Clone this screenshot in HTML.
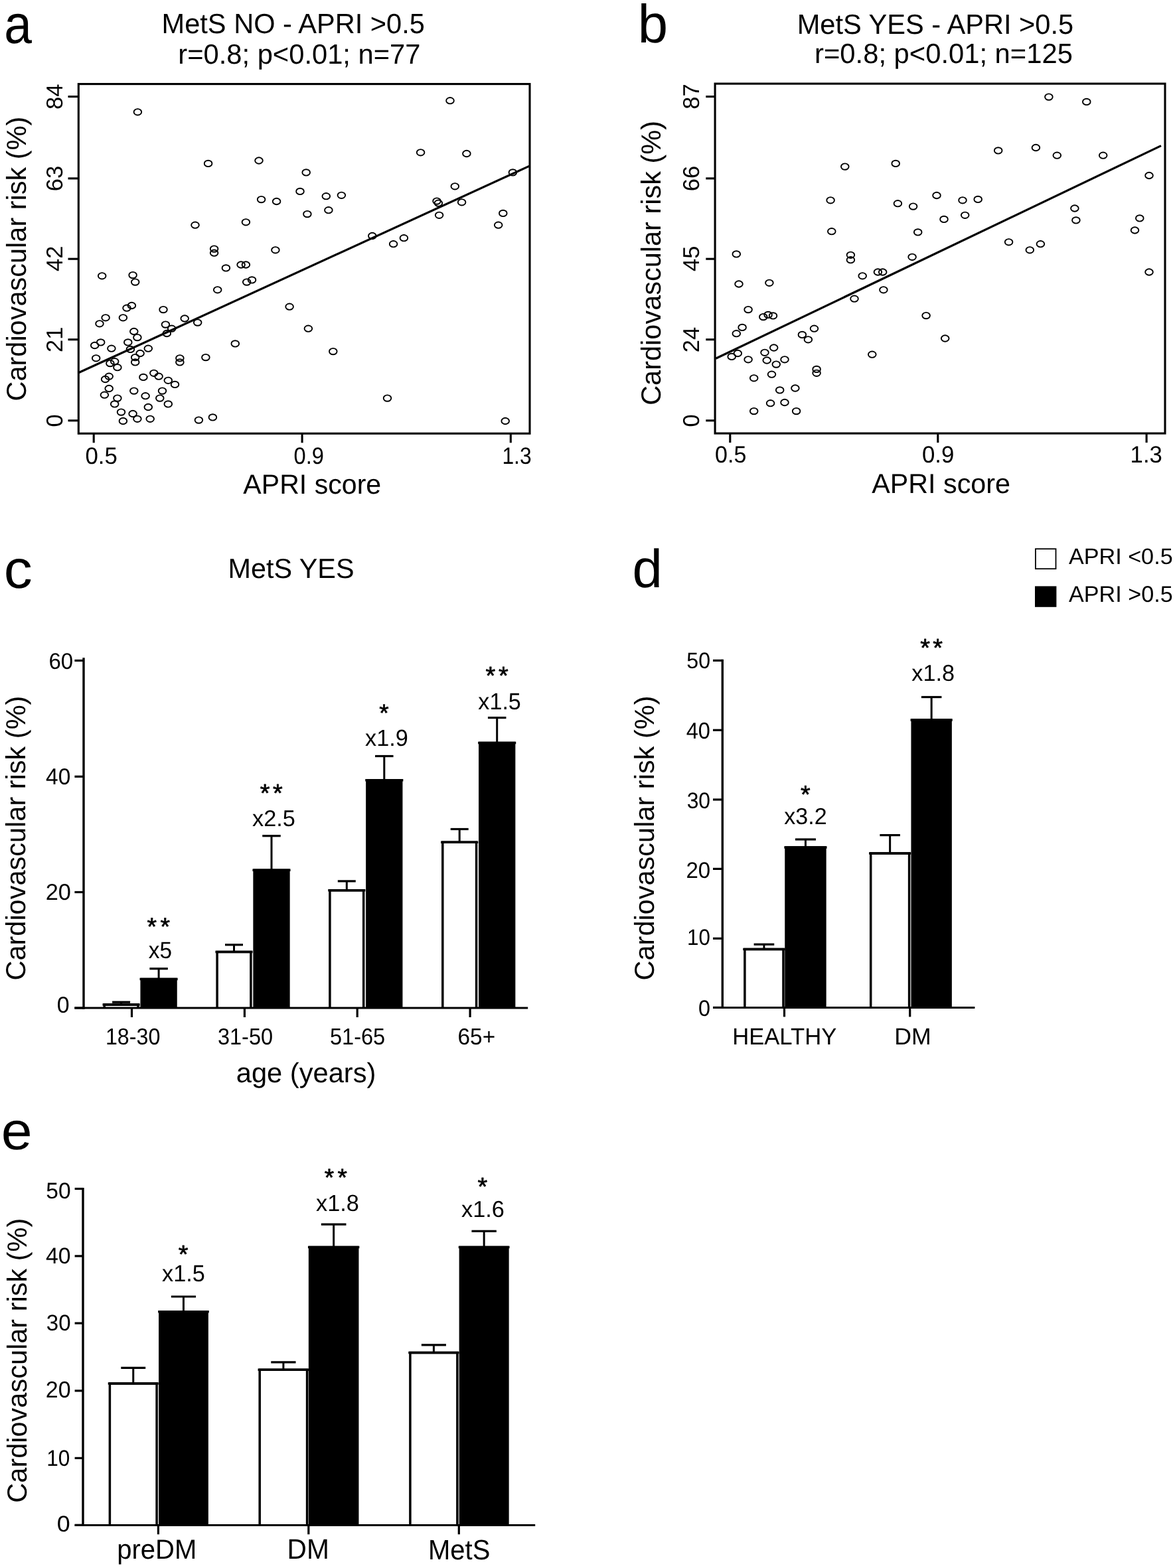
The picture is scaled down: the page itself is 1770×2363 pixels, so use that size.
<!DOCTYPE html>
<html><head><meta charset="utf-8"><title>Figure</title>
<style>
html,body{margin:0;padding:0;background:#fff;}
svg{display:block;}
text{font-family:"Liberation Sans",Arial,Helvetica,sans-serif;fill:#000;stroke:none;text-rendering:geometricPrecision;}
</style></head>
<body>
<svg width="1770" height="2363" viewBox="0 0 1770 2363">
<rect width="1770" height="2363" fill="#fff"/>
<g stroke="#000" fill="none" stroke-linecap="butt">
<g id="pa">
<line x1="118.30" y1="561.80" x2="797.60" y2="250.10" stroke-width="3.2"/>
<ellipse cx="207.4" cy="168.8" rx="5.8" ry="4.7" fill="none" stroke-width="1.9"/>
<ellipse cx="313.6" cy="246.4" rx="5.8" ry="4.7" fill="none" stroke-width="1.9"/>
<ellipse cx="390.0" cy="242.0" rx="5.8" ry="4.7" fill="none" stroke-width="1.9"/>
<ellipse cx="452.0" cy="288.4" rx="5.8" ry="4.7" fill="none" stroke-width="1.9"/>
<ellipse cx="393.6" cy="300.6" rx="5.8" ry="4.7" fill="none" stroke-width="1.9"/>
<ellipse cx="416.6" cy="303.5" rx="5.8" ry="4.7" fill="none" stroke-width="1.9"/>
<ellipse cx="294.0" cy="339.2" rx="5.8" ry="4.7" fill="none" stroke-width="1.9"/>
<ellipse cx="370.4" cy="334.8" rx="5.8" ry="4.7" fill="none" stroke-width="1.9"/>
<ellipse cx="322.6" cy="375.1" rx="5.8" ry="4.7" fill="none" stroke-width="1.9"/>
<ellipse cx="322.6" cy="381.2" rx="5.8" ry="4.7" fill="none" stroke-width="1.9"/>
<ellipse cx="414.9" cy="376.8" rx="5.8" ry="4.7" fill="none" stroke-width="1.9"/>
<ellipse cx="363.1" cy="399.0" rx="5.8" ry="4.7" fill="none" stroke-width="1.9"/>
<ellipse cx="370.4" cy="399.0" rx="5.8" ry="4.7" fill="none" stroke-width="1.9"/>
<ellipse cx="340.4" cy="403.9" rx="5.8" ry="4.7" fill="none" stroke-width="1.9"/>
<ellipse cx="153.7" cy="415.8" rx="5.8" ry="4.7" fill="none" stroke-width="1.9"/>
<ellipse cx="200.1" cy="414.6" rx="5.8" ry="4.7" fill="none" stroke-width="1.9"/>
<ellipse cx="203.7" cy="425.1" rx="5.8" ry="4.7" fill="none" stroke-width="1.9"/>
<ellipse cx="371.7" cy="425.1" rx="5.8" ry="4.7" fill="none" stroke-width="1.9"/>
<ellipse cx="379.5" cy="421.9" rx="5.8" ry="4.7" fill="none" stroke-width="1.9"/>
<ellipse cx="327.7" cy="436.8" rx="5.8" ry="4.7" fill="none" stroke-width="1.9"/>
<ellipse cx="436.1" cy="462.2" rx="5.8" ry="4.7" fill="none" stroke-width="1.9"/>
<ellipse cx="191.0" cy="464.2" rx="5.8" ry="4.7" fill="none" stroke-width="1.9"/>
<ellipse cx="198.4" cy="460.5" rx="5.8" ry="4.7" fill="none" stroke-width="1.9"/>
<ellipse cx="246.0" cy="466.6" rx="5.8" ry="4.7" fill="none" stroke-width="1.9"/>
<ellipse cx="159.1" cy="478.8" rx="5.8" ry="4.7" fill="none" stroke-width="1.9"/>
<ellipse cx="185.4" cy="478.8" rx="5.8" ry="4.7" fill="none" stroke-width="1.9"/>
<ellipse cx="278.2" cy="480.0" rx="5.8" ry="4.7" fill="none" stroke-width="1.9"/>
<ellipse cx="150.0" cy="487.8" rx="5.8" ry="4.7" fill="none" stroke-width="1.9"/>
<ellipse cx="297.7" cy="486.1" rx="5.8" ry="4.7" fill="none" stroke-width="1.9"/>
<ellipse cx="249.4" cy="489.1" rx="5.8" ry="4.7" fill="none" stroke-width="1.9"/>
<ellipse cx="258.7" cy="495.2" rx="5.8" ry="4.7" fill="none" stroke-width="1.9"/>
<ellipse cx="251.3" cy="502.5" rx="5.8" ry="4.7" fill="none" stroke-width="1.9"/>
<ellipse cx="201.8" cy="499.5" rx="5.8" ry="4.7" fill="none" stroke-width="1.9"/>
<ellipse cx="206.9" cy="508.6" rx="5.8" ry="4.7" fill="none" stroke-width="1.9"/>
<ellipse cx="151.7" cy="515.9" rx="5.8" ry="4.7" fill="none" stroke-width="1.9"/>
<ellipse cx="142.7" cy="520.5" rx="5.8" ry="4.7" fill="none" stroke-width="1.9"/>
<ellipse cx="192.8" cy="515.9" rx="5.8" ry="4.7" fill="none" stroke-width="1.9"/>
<ellipse cx="167.9" cy="525.2" rx="5.8" ry="4.7" fill="none" stroke-width="1.9"/>
<ellipse cx="196.4" cy="526.4" rx="5.8" ry="4.7" fill="none" stroke-width="1.9"/>
<ellipse cx="223.3" cy="525.2" rx="5.8" ry="4.7" fill="none" stroke-width="1.9"/>
<ellipse cx="354.3" cy="517.9" rx="5.8" ry="4.7" fill="none" stroke-width="1.9"/>
<ellipse cx="211.1" cy="532.5" rx="5.8" ry="4.7" fill="none" stroke-width="1.9"/>
<ellipse cx="144.7" cy="539.8" rx="5.8" ry="4.7" fill="none" stroke-width="1.9"/>
<ellipse cx="203.7" cy="538.6" rx="5.8" ry="4.7" fill="none" stroke-width="1.9"/>
<ellipse cx="203.7" cy="545.9" rx="5.8" ry="4.7" fill="none" stroke-width="1.9"/>
<ellipse cx="270.9" cy="539.8" rx="5.8" ry="4.7" fill="none" stroke-width="1.9"/>
<ellipse cx="270.9" cy="545.9" rx="5.8" ry="4.7" fill="none" stroke-width="1.9"/>
<ellipse cx="309.9" cy="538.6" rx="5.8" ry="4.7" fill="none" stroke-width="1.9"/>
<ellipse cx="172.7" cy="544.7" rx="5.8" ry="4.7" fill="none" stroke-width="1.9"/>
<ellipse cx="165.9" cy="547.6" rx="5.8" ry="4.7" fill="none" stroke-width="1.9"/>
<ellipse cx="176.9" cy="553.7" rx="5.8" ry="4.7" fill="none" stroke-width="1.9"/>
<ellipse cx="231.8" cy="562.3" rx="5.8" ry="4.7" fill="none" stroke-width="1.9"/>
<ellipse cx="239.1" cy="567.2" rx="5.8" ry="4.7" fill="none" stroke-width="1.9"/>
<ellipse cx="215.9" cy="568.4" rx="5.8" ry="4.7" fill="none" stroke-width="1.9"/>
<ellipse cx="164.2" cy="567.2" rx="5.8" ry="4.7" fill="none" stroke-width="1.9"/>
<ellipse cx="158.6" cy="571.5" rx="5.8" ry="4.7" fill="none" stroke-width="1.9"/>
<ellipse cx="253.3" cy="573.3" rx="5.8" ry="4.7" fill="none" stroke-width="1.9"/>
<ellipse cx="263.5" cy="579.4" rx="5.8" ry="4.7" fill="none" stroke-width="1.9"/>
<ellipse cx="164.2" cy="585.5" rx="5.8" ry="4.7" fill="none" stroke-width="1.9"/>
<ellipse cx="201.8" cy="589.1" rx="5.8" ry="4.7" fill="none" stroke-width="1.9"/>
<ellipse cx="244.5" cy="589.1" rx="5.8" ry="4.7" fill="none" stroke-width="1.9"/>
<ellipse cx="157.4" cy="595.2" rx="5.8" ry="4.7" fill="none" stroke-width="1.9"/>
<ellipse cx="219.1" cy="596.7" rx="5.8" ry="4.7" fill="none" stroke-width="1.9"/>
<ellipse cx="240.8" cy="600.1" rx="5.8" ry="4.7" fill="none" stroke-width="1.9"/>
<ellipse cx="176.9" cy="600.1" rx="5.8" ry="4.7" fill="none" stroke-width="1.9"/>
<ellipse cx="172.7" cy="608.9" rx="5.8" ry="4.7" fill="none" stroke-width="1.9"/>
<ellipse cx="253.3" cy="608.9" rx="5.8" ry="4.7" fill="none" stroke-width="1.9"/>
<ellipse cx="223.3" cy="613.5" rx="5.8" ry="4.7" fill="none" stroke-width="1.9"/>
<ellipse cx="182.5" cy="621.1" rx="5.8" ry="4.7" fill="none" stroke-width="1.9"/>
<ellipse cx="200.1" cy="623.5" rx="5.8" ry="4.7" fill="none" stroke-width="1.9"/>
<ellipse cx="206.9" cy="631.3" rx="5.8" ry="4.7" fill="none" stroke-width="1.9"/>
<ellipse cx="226.2" cy="631.3" rx="5.8" ry="4.7" fill="none" stroke-width="1.9"/>
<ellipse cx="185.4" cy="634.5" rx="5.8" ry="4.7" fill="none" stroke-width="1.9"/>
<ellipse cx="299.4" cy="633.1" rx="5.8" ry="4.7" fill="none" stroke-width="1.9"/>
<ellipse cx="320.4" cy="628.9" rx="5.8" ry="4.7" fill="none" stroke-width="1.9"/>
<ellipse cx="678.0" cy="151.7" rx="5.8" ry="4.7" fill="none" stroke-width="1.9"/>
<ellipse cx="633.6" cy="229.8" rx="5.8" ry="4.7" fill="none" stroke-width="1.9"/>
<ellipse cx="702.9" cy="231.5" rx="5.8" ry="4.7" fill="none" stroke-width="1.9"/>
<ellipse cx="461.2" cy="259.9" rx="5.8" ry="4.7" fill="none" stroke-width="1.9"/>
<ellipse cx="491.3" cy="295.7" rx="5.8" ry="4.7" fill="none" stroke-width="1.9"/>
<ellipse cx="514.4" cy="294.3" rx="5.8" ry="4.7" fill="none" stroke-width="1.9"/>
<ellipse cx="462.9" cy="322.6" rx="5.8" ry="4.7" fill="none" stroke-width="1.9"/>
<ellipse cx="494.9" cy="316.7" rx="5.8" ry="4.7" fill="none" stroke-width="1.9"/>
<ellipse cx="772.4" cy="259.9" rx="5.8" ry="4.7" fill="none" stroke-width="1.9"/>
<ellipse cx="685.3" cy="280.8" rx="5.8" ry="4.7" fill="none" stroke-width="1.9"/>
<ellipse cx="658.0" cy="303.1" rx="5.8" ry="4.7" fill="none" stroke-width="1.9"/>
<ellipse cx="660.4" cy="306.2" rx="5.8" ry="4.7" fill="none" stroke-width="1.9"/>
<ellipse cx="695.6" cy="304.8" rx="5.8" ry="4.7" fill="none" stroke-width="1.9"/>
<ellipse cx="757.8" cy="321.4" rx="5.8" ry="4.7" fill="none" stroke-width="1.9"/>
<ellipse cx="661.6" cy="324.3" rx="5.8" ry="4.7" fill="none" stroke-width="1.9"/>
<ellipse cx="750.7" cy="339.2" rx="5.8" ry="4.7" fill="none" stroke-width="1.9"/>
<ellipse cx="560.8" cy="355.5" rx="5.8" ry="4.7" fill="none" stroke-width="1.9"/>
<ellipse cx="608.4" cy="358.7" rx="5.8" ry="4.7" fill="none" stroke-width="1.9"/>
<ellipse cx="592.6" cy="367.7" rx="5.8" ry="4.7" fill="none" stroke-width="1.9"/>
<ellipse cx="464.4" cy="495.2" rx="5.8" ry="4.7" fill="none" stroke-width="1.9"/>
<ellipse cx="501.8" cy="529.6" rx="5.8" ry="4.7" fill="none" stroke-width="1.9"/>
<ellipse cx="583.5" cy="600.1" rx="5.8" ry="4.7" fill="none" stroke-width="1.9"/>
<ellipse cx="761.2" cy="634.5" rx="5.8" ry="4.7" fill="none" stroke-width="1.9"/>
<rect x="118.30" y="126.60" width="679.70" height="526.70" fill="none" stroke-width="3.1"/>
<line x1="102.50" y1="145.60" x2="118.30" y2="145.60" stroke-width="3.1"/>
<text transform="translate(93.60,165.02) rotate(-90)" font-size="34.5">84</text>
<line x1="102.50" y1="268.90" x2="118.30" y2="268.90" stroke-width="3.1"/>
<text transform="translate(93.60,288.20) rotate(-90)" font-size="34.5">63</text>
<line x1="102.50" y1="390.20" x2="118.30" y2="390.20" stroke-width="3.1"/>
<text transform="translate(93.60,408.92) rotate(-90)" font-size="34.5">42</text>
<line x1="102.50" y1="511.70" x2="118.30" y2="511.70" stroke-width="3.1"/>
<text transform="translate(93.60,530.90) rotate(-90)" font-size="34.5">21</text>
<line x1="102.50" y1="633.80" x2="118.30" y2="633.80" stroke-width="3.1"/>
<text transform="translate(93.60,643.39) rotate(-90)" font-size="34.5">0</text>
<line x1="141.20" y1="653.30" x2="141.20" y2="667.30" stroke-width="3.1"/>
<line x1="455.10" y1="653.30" x2="455.10" y2="667.30" stroke-width="3.1"/>
<line x1="769.30" y1="653.30" x2="769.30" y2="667.30" stroke-width="3.1"/>
<text transform="translate(128.39,699.14) scale(0.9813,1)" font-size="35.5">0.5</text>
<text transform="translate(442.48,699.14) scale(0.9202,1)" font-size="35.5">0.9</text>
<text transform="translate(756.43,699.14) scale(0.8961,1)" font-size="35.5">1.3</text>
<text transform="translate(366.37,743.50) scale(0.9901,1)" font-size="41.5">APRI score</text>
<text transform="translate(39.30,604.56) rotate(-90)" font-size="41.5">Cardiovascular risk (%)</text>
<text transform="translate(243.54,50.00) scale(0.9901,1)" font-size="42">MetS NO - APRI &gt;0.5</text>
<text transform="translate(268.30,96.00) scale(0.9928,1)" font-size="42">r=0.8; p&lt;0.01; n=77</text>
<text transform="translate(6.35,64.73) scale(0.9113,1)" font-size="82.3">a</text>
</g>
<g id="pb">
<line x1="1078.30" y1="540.30" x2="1749.00" y2="219.60" stroke-width="3.2"/>
<ellipse cx="1272.8" cy="251.1" rx="5.8" ry="4.7" fill="none" stroke-width="1.9"/>
<ellipse cx="1349.2" cy="246.4" rx="5.8" ry="4.7" fill="none" stroke-width="1.9"/>
<ellipse cx="1411.0" cy="294.5" rx="5.8" ry="4.7" fill="none" stroke-width="1.9"/>
<ellipse cx="1251.1" cy="301.8" rx="5.8" ry="4.7" fill="none" stroke-width="1.9"/>
<ellipse cx="1352.4" cy="306.7" rx="5.8" ry="4.7" fill="none" stroke-width="1.9"/>
<ellipse cx="1375.6" cy="311.1" rx="5.8" ry="4.7" fill="none" stroke-width="1.9"/>
<ellipse cx="1252.8" cy="348.7" rx="5.8" ry="4.7" fill="none" stroke-width="1.9"/>
<ellipse cx="1382.7" cy="349.9" rx="5.8" ry="4.7" fill="none" stroke-width="1.9"/>
<ellipse cx="1109.3" cy="382.9" rx="5.8" ry="4.7" fill="none" stroke-width="1.9"/>
<ellipse cx="1281.4" cy="384.3" rx="5.8" ry="4.7" fill="none" stroke-width="1.9"/>
<ellipse cx="1281.4" cy="391.7" rx="5.8" ry="4.7" fill="none" stroke-width="1.9"/>
<ellipse cx="1374.1" cy="387.3" rx="5.8" ry="4.7" fill="none" stroke-width="1.9"/>
<ellipse cx="1322.4" cy="410.0" rx="5.8" ry="4.7" fill="none" stroke-width="1.9"/>
<ellipse cx="1329.7" cy="410.0" rx="5.8" ry="4.7" fill="none" stroke-width="1.9"/>
<ellipse cx="1299.2" cy="415.8" rx="5.8" ry="4.7" fill="none" stroke-width="1.9"/>
<ellipse cx="1113.0" cy="428.0" rx="5.8" ry="4.7" fill="none" stroke-width="1.9"/>
<ellipse cx="1158.9" cy="426.3" rx="5.8" ry="4.7" fill="none" stroke-width="1.9"/>
<ellipse cx="1330.9" cy="436.8" rx="5.8" ry="4.7" fill="none" stroke-width="1.9"/>
<ellipse cx="1287.0" cy="450.2" rx="5.8" ry="4.7" fill="none" stroke-width="1.9"/>
<ellipse cx="1127.1" cy="466.6" rx="5.8" ry="4.7" fill="none" stroke-width="1.9"/>
<ellipse cx="1149.8" cy="477.6" rx="5.8" ry="4.7" fill="none" stroke-width="1.9"/>
<ellipse cx="1157.1" cy="474.4" rx="5.8" ry="4.7" fill="none" stroke-width="1.9"/>
<ellipse cx="1164.5" cy="475.9" rx="5.8" ry="4.7" fill="none" stroke-width="1.9"/>
<ellipse cx="1395.1" cy="475.6" rx="5.8" ry="4.7" fill="none" stroke-width="1.9"/>
<ellipse cx="1118.1" cy="493.4" rx="5.8" ry="4.7" fill="none" stroke-width="1.9"/>
<ellipse cx="1109.3" cy="502.7" rx="5.8" ry="4.7" fill="none" stroke-width="1.9"/>
<ellipse cx="1226.5" cy="495.2" rx="5.8" ry="4.7" fill="none" stroke-width="1.9"/>
<ellipse cx="1208.4" cy="504.4" rx="5.8" ry="4.7" fill="none" stroke-width="1.9"/>
<ellipse cx="1217.4" cy="511.8" rx="5.8" ry="4.7" fill="none" stroke-width="1.9"/>
<ellipse cx="1165.7" cy="524.0" rx="5.8" ry="4.7" fill="none" stroke-width="1.9"/>
<ellipse cx="1111.3" cy="532.5" rx="5.8" ry="4.7" fill="none" stroke-width="1.9"/>
<ellipse cx="1102.2" cy="537.4" rx="5.8" ry="4.7" fill="none" stroke-width="1.9"/>
<ellipse cx="1152.0" cy="531.3" rx="5.8" ry="4.7" fill="none" stroke-width="1.9"/>
<ellipse cx="1127.1" cy="541.8" rx="5.8" ry="4.7" fill="none" stroke-width="1.9"/>
<ellipse cx="1155.2" cy="543.0" rx="5.8" ry="4.7" fill="none" stroke-width="1.9"/>
<ellipse cx="1182.0" cy="541.8" rx="5.8" ry="4.7" fill="none" stroke-width="1.9"/>
<ellipse cx="1169.3" cy="549.1" rx="5.8" ry="4.7" fill="none" stroke-width="1.9"/>
<ellipse cx="1313.8" cy="534.2" rx="5.8" ry="4.7" fill="none" stroke-width="1.9"/>
<ellipse cx="1230.1" cy="556.4" rx="5.8" ry="4.7" fill="none" stroke-width="1.9"/>
<ellipse cx="1230.1" cy="562.3" rx="5.8" ry="4.7" fill="none" stroke-width="1.9"/>
<ellipse cx="1162.5" cy="564.2" rx="5.8" ry="4.7" fill="none" stroke-width="1.9"/>
<ellipse cx="1135.7" cy="569.8" rx="5.8" ry="4.7" fill="none" stroke-width="1.9"/>
<ellipse cx="1174.7" cy="587.9" rx="5.8" ry="4.7" fill="none" stroke-width="1.9"/>
<ellipse cx="1197.9" cy="585.0" rx="5.8" ry="4.7" fill="none" stroke-width="1.9"/>
<ellipse cx="1160.6" cy="607.7" rx="5.8" ry="4.7" fill="none" stroke-width="1.9"/>
<ellipse cx="1182.0" cy="606.5" rx="5.8" ry="4.7" fill="none" stroke-width="1.9"/>
<ellipse cx="1135.7" cy="619.6" rx="5.8" ry="4.7" fill="none" stroke-width="1.9"/>
<ellipse cx="1199.6" cy="619.6" rx="5.8" ry="4.7" fill="none" stroke-width="1.9"/>
<ellipse cx="1579.9" cy="146.1" rx="5.8" ry="4.7" fill="none" stroke-width="1.9"/>
<ellipse cx="1636.8" cy="153.4" rx="5.8" ry="4.7" fill="none" stroke-width="1.9"/>
<ellipse cx="1503.7" cy="226.9" rx="5.8" ry="4.7" fill="none" stroke-width="1.9"/>
<ellipse cx="1560.4" cy="222.5" rx="5.8" ry="4.7" fill="none" stroke-width="1.9"/>
<ellipse cx="1592.3" cy="234.2" rx="5.8" ry="4.7" fill="none" stroke-width="1.9"/>
<ellipse cx="1661.7" cy="234.2" rx="5.8" ry="4.7" fill="none" stroke-width="1.9"/>
<ellipse cx="1731.0" cy="264.5" rx="5.8" ry="4.7" fill="none" stroke-width="1.9"/>
<ellipse cx="1450.0" cy="301.8" rx="5.8" ry="4.7" fill="none" stroke-width="1.9"/>
<ellipse cx="1473.2" cy="300.4" rx="5.8" ry="4.7" fill="none" stroke-width="1.9"/>
<ellipse cx="1422.0" cy="330.4" rx="5.8" ry="4.7" fill="none" stroke-width="1.9"/>
<ellipse cx="1453.7" cy="324.3" rx="5.8" ry="4.7" fill="none" stroke-width="1.9"/>
<ellipse cx="1618.9" cy="314.0" rx="5.8" ry="4.7" fill="none" stroke-width="1.9"/>
<ellipse cx="1620.9" cy="331.9" rx="5.8" ry="4.7" fill="none" stroke-width="1.9"/>
<ellipse cx="1716.8" cy="328.9" rx="5.8" ry="4.7" fill="none" stroke-width="1.9"/>
<ellipse cx="1709.5" cy="347.0" rx="5.8" ry="4.7" fill="none" stroke-width="1.9"/>
<ellipse cx="1519.6" cy="364.8" rx="5.8" ry="4.7" fill="none" stroke-width="1.9"/>
<ellipse cx="1567.4" cy="367.7" rx="5.8" ry="4.7" fill="none" stroke-width="1.9"/>
<ellipse cx="1551.3" cy="376.8" rx="5.8" ry="4.7" fill="none" stroke-width="1.9"/>
<ellipse cx="1731.0" cy="410.0" rx="5.8" ry="4.7" fill="none" stroke-width="1.9"/>
<ellipse cx="1423.7" cy="510.0" rx="5.8" ry="4.7" fill="none" stroke-width="1.9"/>
<rect x="1077.10" y="126.10" width="677.90" height="527.00" fill="none" stroke-width="3.1"/>
<line x1="1063.30" y1="145.60" x2="1077.10" y2="145.60" stroke-width="3.1"/>
<text transform="translate(1053.10,164.66) rotate(-90)" font-size="34.5">87</text>
<line x1="1063.30" y1="268.90" x2="1077.10" y2="268.90" stroke-width="3.1"/>
<text transform="translate(1053.10,288.20) rotate(-90)" font-size="34.5">66</text>
<line x1="1063.30" y1="390.20" x2="1077.10" y2="390.20" stroke-width="3.1"/>
<text transform="translate(1053.10,409.05) rotate(-90)" font-size="34.5">45</text>
<line x1="1063.30" y1="511.70" x2="1077.10" y2="511.70" stroke-width="3.1"/>
<text transform="translate(1053.10,531.24) rotate(-90)" font-size="34.5">24</text>
<line x1="1063.30" y1="633.80" x2="1077.10" y2="633.80" stroke-width="3.1"/>
<text transform="translate(1053.10,643.39) rotate(-90)" font-size="34.5">0</text>
<line x1="1099.80" y1="653.10" x2="1099.80" y2="667.10" stroke-width="3.1"/>
<line x1="1412.80" y1="653.10" x2="1412.80" y2="667.10" stroke-width="3.1"/>
<line x1="1727.10" y1="653.10" x2="1727.10" y2="667.10" stroke-width="3.1"/>
<text transform="translate(1077.12,697.44) scale(0.9576,1)" font-size="35.5">0.5</text>
<text transform="translate(1388.99,697.44) scale(0.9807,1)" font-size="35.5">0.9</text>
<text transform="translate(1702.61,697.44) scale(0.9782,1)" font-size="35.5">1.3</text>
<text transform="translate(1313.17,743.30) scale(0.9949,1)" font-size="41.5">APRI score</text>
<text transform="translate(994.70,610.86) rotate(-90)" font-size="41.5">Cardiovascular risk (%)</text>
<text transform="translate(1200.64,50.70) scale(0.9904,1)" font-size="42">MetS YES - APRI &gt;0.5</text>
<text transform="translate(1227.10,95.20) scale(0.9938,1)" font-size="42">r=0.8; p&lt;0.01; n=125</text>
<text x="960.64" y="63.93" font-size="81.56">b</text>
</g>
<g id="pc">
<line x1="182.60" y1="1510.20" x2="182.60" y2="1513.40" stroke-width="3"/>
<line x1="169.10" y1="1510.20" x2="196.10" y2="1510.20" stroke-width="3.2"/>
<path d="M157.20,1519.00V1514.00H208.00V1519.00" fill="#fff" stroke-width="3.5" stroke-linejoin="miter"/>
<line x1="154.55" y1="1514.00" x2="210.65" y2="1514.00" stroke-width="3.5"/>
<line x1="239.10" y1="1459.80" x2="239.10" y2="1474.80" stroke-width="3"/>
<line x1="225.35" y1="1459.80" x2="252.85" y2="1459.80" stroke-width="3.2"/>
<path d="M213.20,1519.00V1475.40H265.00V1519.00" fill="#000" stroke-width="3.5" stroke-linejoin="miter"/>
<line x1="210.55" y1="1475.40" x2="267.65" y2="1475.40" stroke-width="3.5"/>
<line x1="352.50" y1="1423.80" x2="352.50" y2="1433.80" stroke-width="3"/>
<line x1="339.00" y1="1423.80" x2="366.00" y2="1423.80" stroke-width="3.2"/>
<path d="M327.10,1519.00V1434.40H377.90V1519.00" fill="#fff" stroke-width="3.5" stroke-linejoin="miter"/>
<line x1="324.45" y1="1434.40" x2="380.55" y2="1434.40" stroke-width="3.5"/>
<line x1="409.00" y1="1259.70" x2="409.00" y2="1310.70" stroke-width="3"/>
<line x1="395.25" y1="1259.70" x2="422.75" y2="1259.70" stroke-width="3.2"/>
<path d="M383.10,1519.00V1311.30H434.90V1519.00" fill="#000" stroke-width="3.5" stroke-linejoin="miter"/>
<line x1="380.45" y1="1311.30" x2="437.55" y2="1311.30" stroke-width="3.5"/>
<line x1="522.30" y1="1327.90" x2="522.30" y2="1341.10" stroke-width="3"/>
<line x1="508.80" y1="1327.90" x2="535.80" y2="1327.90" stroke-width="3.2"/>
<path d="M496.90,1519.00V1341.70H547.70V1519.00" fill="#fff" stroke-width="3.5" stroke-linejoin="miter"/>
<line x1="494.25" y1="1341.70" x2="550.35" y2="1341.70" stroke-width="3.5"/>
<line x1="578.80" y1="1139.50" x2="578.80" y2="1175.20" stroke-width="3"/>
<line x1="565.05" y1="1139.50" x2="592.55" y2="1139.50" stroke-width="3.2"/>
<path d="M552.90,1519.00V1175.80H604.70V1519.00" fill="#000" stroke-width="3.5" stroke-linejoin="miter"/>
<line x1="550.25" y1="1175.80" x2="607.35" y2="1175.80" stroke-width="3.5"/>
<line x1="692.20" y1="1249.50" x2="692.20" y2="1268.70" stroke-width="3"/>
<line x1="678.70" y1="1249.50" x2="705.70" y2="1249.50" stroke-width="3.2"/>
<path d="M666.80,1519.00V1269.30H717.60V1519.00" fill="#fff" stroke-width="3.5" stroke-linejoin="miter"/>
<line x1="664.15" y1="1269.30" x2="720.25" y2="1269.30" stroke-width="3.5"/>
<line x1="748.70" y1="1081.60" x2="748.70" y2="1118.80" stroke-width="3"/>
<line x1="734.95" y1="1081.60" x2="762.45" y2="1081.60" stroke-width="3.2"/>
<path d="M722.80,1519.00V1119.40H774.60V1519.00" fill="#000" stroke-width="3.5" stroke-linejoin="miter"/>
<line x1="720.15" y1="1119.40" x2="777.25" y2="1119.40" stroke-width="3.5"/>
<line x1="112.30" y1="1519.00" x2="795.20" y2="1519.00" stroke-width="3.0"/>
<line x1="126.00" y1="991.20" x2="126.00" y2="1520.70" stroke-width="3.4"/>
<line x1="112.40" y1="995.50" x2="126.00" y2="995.50" stroke-width="3.2"/>
<line x1="112.40" y1="1170.30" x2="126.00" y2="1170.30" stroke-width="3.2"/>
<line x1="112.40" y1="1344.50" x2="126.00" y2="1344.50" stroke-width="3.2"/>
<line x1="112.40" y1="1519.00" x2="126.00" y2="1519.00" stroke-width="3.2"/>
<line x1="198.50" y1="1519.00" x2="198.50" y2="1533.00" stroke-width="3.2"/>
<line x1="368.40" y1="1519.00" x2="368.40" y2="1533.00" stroke-width="3.2"/>
<line x1="538.20" y1="1519.00" x2="538.20" y2="1533.00" stroke-width="3.2"/>
<line x1="708.10" y1="1519.00" x2="708.10" y2="1533.00" stroke-width="3.2"/>
<text transform="translate(73.47,1007.91) scale(0.9647,1)" font-size="34.18">60</text>
<text transform="translate(69.08,1182.00) scale(0.9701,1)" font-size="34.46">40</text>
<text x="68.63" y="1355.81" font-size="34.32">20</text>
<text transform="translate(85.83,1525.91) scale(0.9875,1)" font-size="34.32">0</text>
<text transform="translate(158.90,1574.00) scale(0.9237,1)" font-size="34.89">18-30</text>
<text transform="translate(328.02,1574.00) scale(0.9303,1)" font-size="34.89">31-50</text>
<text transform="translate(496.95,1574.00) scale(0.9334,1)" font-size="34.89">51-65</text>
<text transform="translate(689.55,1574.00) scale(0.9572,1)" font-size="34.89">65+</text>
<text transform="translate(355.80,1630.86) scale(0.9958,1)" font-size="41.8">age (years)</text>
<text transform="translate(343.46,870.93) scale(0.9928,1)" font-size="41.67">MetS YES</text>
<text transform="translate(5.71,885.73) scale(1.0491,1)" font-size="81.93">c</text>
<text transform="translate(38.40,1477.56) rotate(-90)" font-size="41.5">Cardiovascular risk (%)</text>
<text x="221.40" y="1408.88" font-size="37.32" letter-spacing="5.56" style="stroke:#000;stroke-width:0.7px;stroke-linejoin:round">**</text>
<text transform="translate(223.85,1444.30) scale(0.9447,1)" font-size="35.39">x5</text>
<text x="391.69" y="1207.77" font-size="37.89" letter-spacing="4.53" style="stroke:#000;stroke-width:0.7px;stroke-linejoin:round">**</text>
<text transform="translate(380.04,1244.70) scale(0.9958,1)" font-size="34.46">x2.5</text>
<text x="571.21" y="1087.48" font-size="37.04" style="stroke:#000;stroke-width:0.7px;stroke-linejoin:round">*</text>
<text transform="translate(550.04,1124.00) scale(0.9776,1)" font-size="35.03">x1.9</text>
<text x="731.49" y="1030.87" font-size="37.89" letter-spacing="4.73" style="stroke:#000;stroke-width:0.7px;stroke-linejoin:round">**</text>
<text transform="translate(720.34,1068.60) scale(0.9729,1)" font-size="35.1">x1.5</text>
</g>
<g id="pd">
<line x1="1150.95" y1="1423.20" x2="1150.95" y2="1429.80" stroke-width="3"/>
<line x1="1135.62" y1="1423.20" x2="1166.27" y2="1423.20" stroke-width="3.2"/>
<path d="M1121.90,1518.40V1430.40H1180.00V1518.40" fill="#fff" stroke-width="3.5" stroke-linejoin="miter"/>
<line x1="1119.25" y1="1430.40" x2="1182.65" y2="1430.40" stroke-width="3.5"/>
<line x1="1213.45" y1="1265.00" x2="1213.45" y2="1276.50" stroke-width="3"/>
<line x1="1197.93" y1="1265.00" x2="1228.97" y2="1265.00" stroke-width="3.2"/>
<path d="M1184.00,1518.40V1277.10H1242.90V1518.40" fill="#000" stroke-width="3.5" stroke-linejoin="miter"/>
<line x1="1181.35" y1="1277.10" x2="1245.55" y2="1277.10" stroke-width="3.5"/>
<line x1="1340.65" y1="1258.60" x2="1340.65" y2="1285.40" stroke-width="3"/>
<line x1="1325.38" y1="1258.60" x2="1355.93" y2="1258.60" stroke-width="3.2"/>
<path d="M1311.70,1518.40V1286.00H1369.60V1518.40" fill="#fff" stroke-width="3.5" stroke-linejoin="miter"/>
<line x1="1309.05" y1="1286.00" x2="1372.25" y2="1286.00" stroke-width="3.5"/>
<line x1="1403.15" y1="1050.50" x2="1403.15" y2="1084.50" stroke-width="3"/>
<line x1="1387.88" y1="1050.50" x2="1418.43" y2="1050.50" stroke-width="3.2"/>
<path d="M1374.20,1518.40V1085.10H1432.10V1518.40" fill="#000" stroke-width="3.5" stroke-linejoin="miter"/>
<line x1="1371.55" y1="1085.10" x2="1434.75" y2="1085.10" stroke-width="3.5"/>
<line x1="1074.10" y1="1518.40" x2="1468.40" y2="1518.40" stroke-width="3.0"/>
<line x1="1088.30" y1="993.80" x2="1088.30" y2="1520.10" stroke-width="3.4"/>
<line x1="1074.00" y1="995.40" x2="1088.30" y2="995.40" stroke-width="3.2"/>
<line x1="1074.00" y1="1100.30" x2="1088.30" y2="1100.30" stroke-width="3.2"/>
<line x1="1074.00" y1="1205.00" x2="1088.30" y2="1205.00" stroke-width="3.2"/>
<line x1="1074.00" y1="1309.40" x2="1088.30" y2="1309.40" stroke-width="3.2"/>
<line x1="1074.00" y1="1414.30" x2="1088.30" y2="1414.30" stroke-width="3.2"/>
<line x1="1074.00" y1="1518.40" x2="1088.30" y2="1518.40" stroke-width="3.2"/>
<line x1="1181.50" y1="1518.40" x2="1181.50" y2="1532.40" stroke-width="3.2"/>
<line x1="1370.70" y1="1518.40" x2="1370.70" y2="1532.40" stroke-width="3.2"/>
<text transform="translate(1034.36,1007.01) scale(0.9481,1)" font-size="33.9">50</text>
<text transform="translate(1033.70,1112.60) scale(0.9414,1)" font-size="34.6">40</text>
<text transform="translate(1034.64,1217.81) scale(0.9405,1)" font-size="33.9">30</text>
<text transform="translate(1033.40,1323.11) scale(0.9746,1)" font-size="33.9">20</text>
<text transform="translate(1034.96,1424.31) scale(0.9261,1)" font-size="33.9">10</text>
<text transform="translate(1051.89,1530.51) scale(0.9565,1)" font-size="33.9">0</text>
<text transform="translate(1103.21,1574.45) scale(0.9801,1)" font-size="35.32">HEALTHY</text>
<text transform="translate(1347.33,1574.45) scale(1.0096,1)" font-size="35.32">DM</text>
<text x="1206.10" y="1209.68" font-size="37.61" style="stroke:#000;stroke-width:0.7px;stroke-linejoin:round">*</text>
<text transform="translate(1181.34,1241.90) scale(0.9752,1)" font-size="34.89">x3.2</text>
<text x="1386.29" y="988.77" font-size="37.89" letter-spacing="4.23" style="stroke:#000;stroke-width:0.7px;stroke-linejoin:round">**</text>
<text transform="translate(1373.34,1026.30) scale(0.9907,1)" font-size="34.6">x1.8</text>
<text transform="translate(952.52,885.04) scale(1.0041,1)" font-size="81.22">d</text>
<text transform="translate(984.80,1477.46) rotate(-90)" font-size="41.5">Cardiovascular risk (%)</text>
<rect x="1559.90" y="827.20" width="30.60" height="30.00" fill="#fff" stroke-width="1.8"/>
<rect x="1559.90" y="884.30" width="30.60" height="29.60" fill="#000" stroke-width="1.8"/>
<text transform="translate(1609.88,850.31) scale(1.0128,1)" font-size="33.76">APRI &lt;0.5</text>
<text transform="translate(1609.88,907.41) scale(0.9963,1)" font-size="34.32">APRI &gt;0.5</text>
</g>
<g id="pe">
<line x1="200.75" y1="2061.30" x2="200.75" y2="2084.30" stroke-width="3"/>
<line x1="182.28" y1="2061.30" x2="219.22" y2="2061.30" stroke-width="3.2"/>
<path d="M165.40,2298.30V2084.90H236.10V2298.30" fill="#fff" stroke-width="3.5" stroke-linejoin="miter"/>
<line x1="162.75" y1="2084.90" x2="238.75" y2="2084.90" stroke-width="3.5"/>
<line x1="276.45" y1="1954.00" x2="276.45" y2="1976.10" stroke-width="3"/>
<line x1="257.82" y1="1954.00" x2="295.07" y2="1954.00" stroke-width="3.2"/>
<path d="M240.80,2298.30V1976.70H312.10V2298.30" fill="#000" stroke-width="3.5" stroke-linejoin="miter"/>
<line x1="238.15" y1="1976.70" x2="314.75" y2="1976.70" stroke-width="3.5"/>
<line x1="426.90" y1="2052.90" x2="426.90" y2="2063.60" stroke-width="3"/>
<line x1="408.25" y1="2052.90" x2="445.55" y2="2052.90" stroke-width="3.2"/>
<path d="M391.20,2298.30V2064.20H462.60V2298.30" fill="#fff" stroke-width="3.5" stroke-linejoin="miter"/>
<line x1="388.55" y1="2064.20" x2="465.25" y2="2064.20" stroke-width="3.5"/>
<line x1="502.65" y1="1845.10" x2="502.65" y2="1879.00" stroke-width="3"/>
<line x1="483.82" y1="1845.10" x2="521.47" y2="1845.10" stroke-width="3.2"/>
<path d="M466.60,2298.30V1879.60H538.70V2298.30" fill="#000" stroke-width="3.5" stroke-linejoin="miter"/>
<line x1="463.95" y1="1879.60" x2="541.35" y2="1879.60" stroke-width="3.5"/>
<line x1="653.40" y1="2026.80" x2="653.40" y2="2037.80" stroke-width="3"/>
<line x1="634.85" y1="2026.80" x2="671.95" y2="2026.80" stroke-width="3.2"/>
<path d="M617.90,2298.30V2038.40H688.90V2298.30" fill="#fff" stroke-width="3.5" stroke-linejoin="miter"/>
<line x1="615.25" y1="2038.40" x2="691.55" y2="2038.40" stroke-width="3.5"/>
<line x1="729.15" y1="1855.40" x2="729.15" y2="1879.00" stroke-width="3"/>
<line x1="710.47" y1="1855.40" x2="747.83" y2="1855.40" stroke-width="3.2"/>
<path d="M693.40,2298.30V1879.60H764.90V2298.30" fill="#000" stroke-width="3.5" stroke-linejoin="miter"/>
<line x1="690.75" y1="1879.60" x2="767.55" y2="1879.60" stroke-width="3.5"/>
<line x1="112.60" y1="2298.60" x2="806.20" y2="2298.60" stroke-width="3.0"/>
<line x1="125.00" y1="1789.90" x2="125.00" y2="2300.00" stroke-width="3.4"/>
<line x1="112.60" y1="1791.50" x2="125.00" y2="1791.50" stroke-width="3.2"/>
<line x1="112.60" y1="1892.90" x2="125.00" y2="1892.90" stroke-width="3.2"/>
<line x1="112.60" y1="1994.10" x2="125.00" y2="1994.10" stroke-width="3.2"/>
<line x1="112.60" y1="2095.90" x2="125.00" y2="2095.90" stroke-width="3.2"/>
<line x1="112.60" y1="2197.40" x2="125.00" y2="2197.40" stroke-width="3.2"/>
<line x1="112.60" y1="2298.30" x2="125.00" y2="2298.30" stroke-width="3.2"/>
<line x1="238.40" y1="2298.30" x2="238.40" y2="2312.30" stroke-width="3.2"/>
<line x1="464.80" y1="2298.30" x2="464.80" y2="2312.30" stroke-width="3.2"/>
<line x1="691.30" y1="2298.30" x2="691.30" y2="2312.30" stroke-width="3.2"/>
<text transform="translate(69.21,1806.11) scale(0.9868,1)" font-size="34.04">50</text>
<text transform="translate(68.97,1903.81) scale(0.9932,1)" font-size="34.04">40</text>
<text transform="translate(69.79,2005.31) scale(0.9707,1)" font-size="34.04">30</text>
<text transform="translate(68.85,2106.30) scale(0.9761,1)" font-size="34.75">20</text>
<text transform="translate(70.25,2208.81) scale(0.9282,1)" font-size="34.04">10</text>
<text transform="translate(85.65,2308.11) scale(1.0553,1)" font-size="33.9">0</text>
<text transform="translate(176.25,2348.64) scale(0.9654,1)" font-size="41.41">preDM</text>
<text transform="translate(432.51,2349.35) scale(0.9588,1)" font-size="42.44">DM</text>
<text transform="translate(645.07,2349.73) scale(0.9468,1)" font-size="42.23">MetS</text>
<text x="268.79" y="1903.07" font-size="37.89" style="stroke:#000;stroke-width:0.7px;stroke-linejoin:round">*</text>
<text transform="translate(244.04,1931.30) scale(0.9776,1)" font-size="35.1">x1.5</text>
<text x="488.81" y="1786.78" font-size="37.04" letter-spacing="5.17" style="stroke:#000;stroke-width:0.7px;stroke-linejoin:round">**</text>
<text transform="translate(476.04,1825.10) scale(0.9801,1)" font-size="35.03">x1.8</text>
<text x="719.59" y="1801.07" font-size="37.89" style="stroke:#000;stroke-width:0.7px;stroke-linejoin:round">*</text>
<text transform="translate(695.04,1834.20) scale(0.9928,1)" font-size="34.6">x1.6</text>
<text transform="translate(1.81,1731.74) scale(1.0470,1)" font-size="80.47">e</text>
<text transform="translate(39.60,2264.66) rotate(-90)" font-size="41.5">Cardiovascular risk (%)</text>
</g>
</g>
</svg>
</body></html>
